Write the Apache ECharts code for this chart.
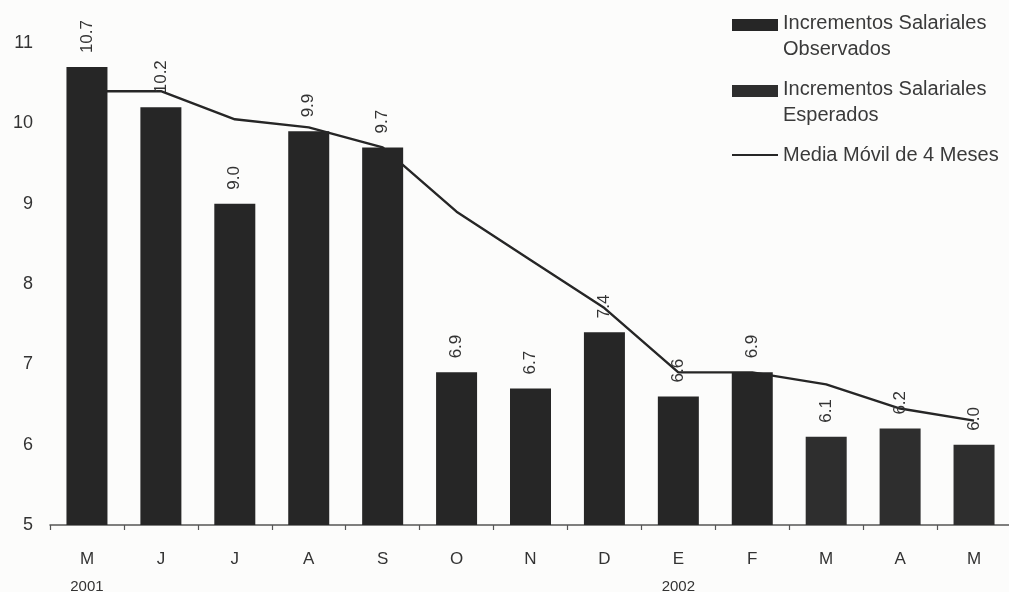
<!DOCTYPE html>
<html>
<head>
<meta charset="utf-8">
<script src="https://cdn.jsdelivr.net/npm/echarts@6/dist/echarts.min.js"></script>
<style>
  html, body { margin: 0; padding: 0; background: #fcfcfb; }
  #chart { width: 1009px; height: 592px; }
</style>
</head>
<body>
<div id="chart"></div>
<script>
// Monthly wage increases, May 2001 – May 2002
const months = ['M', 'J', 'J', 'A', 'S', 'O', 'N', 'D', 'E', 'F', 'M', 'A', 'M'];
const years = ['2001', '', '', '', '', '', '', '', '2002', '', '', '', ''];
const observados = [10.7, 10.2, 9.0, 9.9, 9.7, 6.9, 6.7, 7.4, 6.6, 6.9, null, null, null];
const esperados = [null, null, null, null, null, null, null, null, null, null, 6.1, 6.2, 6.0];
const mediaMovil = [10.4, 10.4, 10.05, 9.95, 9.7, 8.9, 8.3, 7.7, 6.9, 6.9, 6.75, 6.45, 6.3];
const yTicks = [5, 6, 7, 8, 9, 10, 11];

const NAME_OBS = 'Incrementos Salariales Observados';
const NAME_ESP = 'Incrementos Salariales Esperados';
const NAME_MM = 'Media Móvil de 4 Meses';

const FONT = '"Liberation Sans", Arial, sans-serif';
const INK = '#333';

// Bar swatch drawn in the upper part of a taller icon box, so it sits
// beside the first line of a two-line legend label.
const SWATCH = 'path://M0,0L0.01,0M0,3H46V15H0ZM0,40L0.01,40';

const chart = echarts.init(document.getElementById('chart'), null, { renderer: 'canvas' });

const barLabel = {
  show: true,
  position: 'top',
  rotate: 90,
  align: 'left',
  verticalAlign: 'middle',
  distance: 14,
  fontFamily: FONT,
  fontSize: 17,
  color: INK,
  formatter: p => p.value.toFixed(1)
};

function legendBlock(name, top, opts) {
  return Object.assign({
    show: true,
    left: 727,
    top: top,
    orient: 'vertical',
    itemWidth: 46,
    itemGap: 0,
    selectedMode: false,
    data: [name],
    textStyle: {
      fontFamily: FONT,
      fontSize: 20,
      color: '#3a3a3a',
      lineHeight: 26
    }
  }, opts);
}

const twoLines = n => n.replace('Salariales ', 'Salariales\n');

chart.setOption({
  backgroundColor: '#fcfcfb',
  animation: false,
  grid: { left: 50, right: -2, top: 43, bottom: 67, outerBoundsMode: 'none', containLabel: false },
  legend: [
    legendBlock(NAME_OBS, 5, { icon: SWATCH, itemHeight: 40, formatter: twoLines }),
    legendBlock(NAME_ESP, 71, { icon: SWATCH, itemHeight: 40, formatter: twoLines }),
    legendBlock(NAME_MM, 137, { icon: 'rect', itemHeight: 2 })
  ],
  xAxis: {
    type: 'category',
    data: months,
    boundaryGap: true,
    axisLine: { show: true, lineStyle: { color: '#555', width: 1.5 } },
    axisTick: { show: true, length: 5, alignWithLabel: false, lineStyle: { color: '#555', width: 1.2 } },
    axisLabel: {
      margin: 20,
      interval: 0,
      formatter: (v, i) => years[i] ? `{m|${v}}\n{y|${years[i]}}` : `{m|${v}}`,
      rich: {
        m: { fontFamily: FONT, fontSize: 17, color: INK, lineHeight: 28 },
        y: { fontFamily: FONT, fontSize: 15, color: INK, lineHeight: 28 }
      }
    },
    splitLine: { show: false }
  },
  yAxis: {
    type: 'value',
    min: yTicks[0],
    max: yTicks[yTicks.length - 1],
    interval: 1,
    axisLine: { show: false },
    axisTick: { show: false },
    splitLine: { show: false },
    axisLabel: { margin: 17, fontFamily: FONT, fontSize: 18, color: INK, padding: [0, 0, 6, 0] }
  },
  series: [
    {
      name: NAME_MM,
      type: 'line',
      data: mediaMovil,
      symbol: 'none',
      z: 1,
      lineStyle: { color: '#262626', width: 2.4 },
      itemStyle: { color: '#262626' }
    },
    {
      name: NAME_OBS,
      type: 'bar',
      data: observados,
      barWidth: 41,
      barGap: '-100%',
      z: 3,
      itemStyle: { color: '#262626' },
      label: barLabel
    },
    {
      name: NAME_ESP,
      type: 'bar',
      data: esperados,
      barWidth: 41,
      barGap: '-100%',
      z: 3,
      itemStyle: { color: '#2e2e2e' },
      label: barLabel
    }
  ]
});
</script>
</body>
</html>
